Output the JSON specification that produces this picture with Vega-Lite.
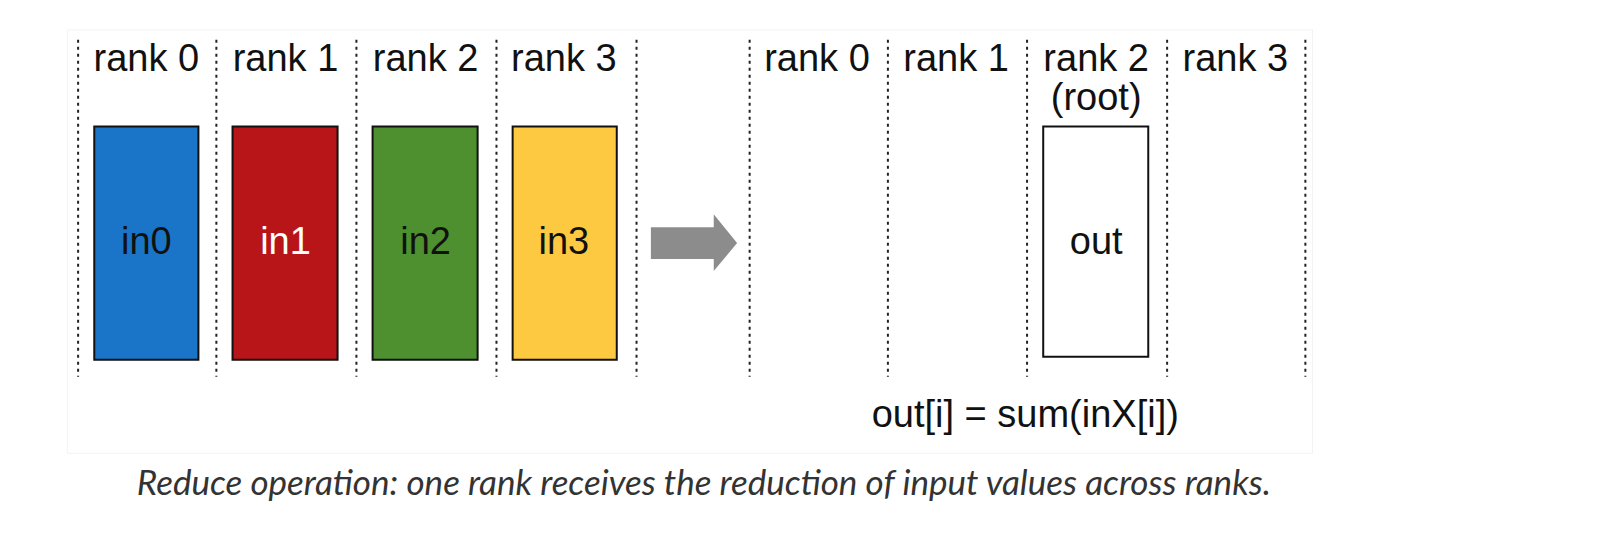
{
"$schema":"https://vega.github.io/schema/vega-lite/v6.json",
"width":1616,"height":548,"autosize":{"type":"fit","contains":"padding"},"padding":0,
"background":"white",
"config":{"view":{"stroke":null}},
"encoding":{},
"layer":[
{"data":{"values":[{"x":75,"x2":1462,"y":30,"y2":455}]},
 "mark":{"type":"rect","fill":"white","stroke":"#f3f3f3"},
 "encoding":{"x":{"field":"x","type":"quantitative","scale":{"domain":[0,1616]},"axis":null},"x2":{"field":"x2"},
  "y":{"field":"y","type":"quantitative","scale":{"domain":[0,548],"reverse":true},"axis":null},"y2":{"field":"y2"}}},
{"data":{"values":[{"x":87},{"x":241},{"x":397},{"x":553},{"x":709},{"x":835},{"x":989},{"x":1144},{"x":1300},{"x":1454}]},
 "mark":{"type":"rule","strokeDash":[3,4],"strokeWidth":2,"color":"#222"},
 "encoding":{"x":{"field":"x","type":"quantitative"},"y":{"datum":40,"type":"quantitative"},"y2":{"datum":378}}},
{"data":{"values":[
 {"x":105,"x2":221,"y":127,"y2":361,"c":"#1a75c8"},
 {"x":259,"x2":376,"y":127,"y2":361,"c":"#b71518"},
 {"x":415,"x2":532,"y":127,"y2":361,"c":"#4e8f2f"},
 {"x":571,"x2":687,"y":127,"y2":361,"c":"#fcc940"},
 {"x":1162,"x2":1279,"y":127,"y2":358,"c":"#ffffff"}]},
 "mark":{"type":"rect","stroke":"#111","strokeWidth":2},
 "encoding":{"x":{"field":"x","type":"quantitative"},"x2":{"field":"x2"},"y":{"field":"y","type":"quantitative"},"y2":{"field":"y2"},"fill":{"field":"c","type":"nominal","scale":null}}},
{"data":{"values":[{"x":725,"x2":797,"y":228,"y2":260}]},
 "mark":{"type":"rect","fill":"#8c8c8c"},
 "encoding":{"x":{"field":"x","type":"quantitative"},"x2":{"field":"x2"},"y":{"field":"y","type":"quantitative"},"y2":{"field":"y2"}}},
{"data":{"values":[{"x":795,"y":215,"y2":272},{"x":821,"y":244,"y2":244}]},
 "mark":{"type":"area","fill":"#8c8c8c","orient":"vertical"},
 "encoding":{"x":{"field":"x","type":"quantitative"},"y":{"field":"y","type":"quantitative"},"y2":{"field":"y2"}}},
{"data":{"values":[
 {"x":163,"y":60,"t":"rank 0","c":"#111"},{"x":318,"y":60,"t":"rank 1","c":"#111"},{"x":474,"y":60,"t":"rank 2","c":"#111"},{"x":628,"y":60,"t":"rank 3","c":"#111"},
 {"x":910,"y":60,"t":"rank 0","c":"#111"},{"x":1065,"y":60,"t":"rank 1","c":"#111"},{"x":1221,"y":60,"t":"rank 2","c":"#111"},{"x":1376,"y":60,"t":"rank 3","c":"#111"},
 {"x":1221,"y":99,"t":"(root)","c":"#111"},
 {"x":163,"y":244,"t":"in0","c":"#111"},{"x":318,"y":244,"t":"in1","c":"#ffffff"},{"x":474,"y":244,"t":"in2","c":"#111"},{"x":628,"y":244,"t":"in3","c":"#111"},
 {"x":1221,"y":244,"t":"out","c":"#111"},
 {"x":1142,"y":418,"t":"out[i] = sum(inX[i])","c":"#111"}]},
 "mark":{"type":"text","font":"Liberation Sans","fontSize":38,"baseline":"middle","align":"center"},
 "encoding":{"x":{"field":"x","type":"quantitative"},"y":{"field":"y","type":"quantitative"},"text":{"field":"t"},"color":{"field":"c","type":"nominal","scale":null}}},
{"data":{"values":[{"x":784,"y":486,"t":"Reduce operation: one rank receives the reduction of input values across ranks."}]},
 "mark":{"type":"text","font":"Lato","fontStyle":"italic","fontSize":35,"baseline":"middle","align":"center","color":"#333"},
 "encoding":{"x":{"field":"x","type":"quantitative"},"y":{"field":"y","type":"quantitative"},"text":{"field":"t"}}}
]}
